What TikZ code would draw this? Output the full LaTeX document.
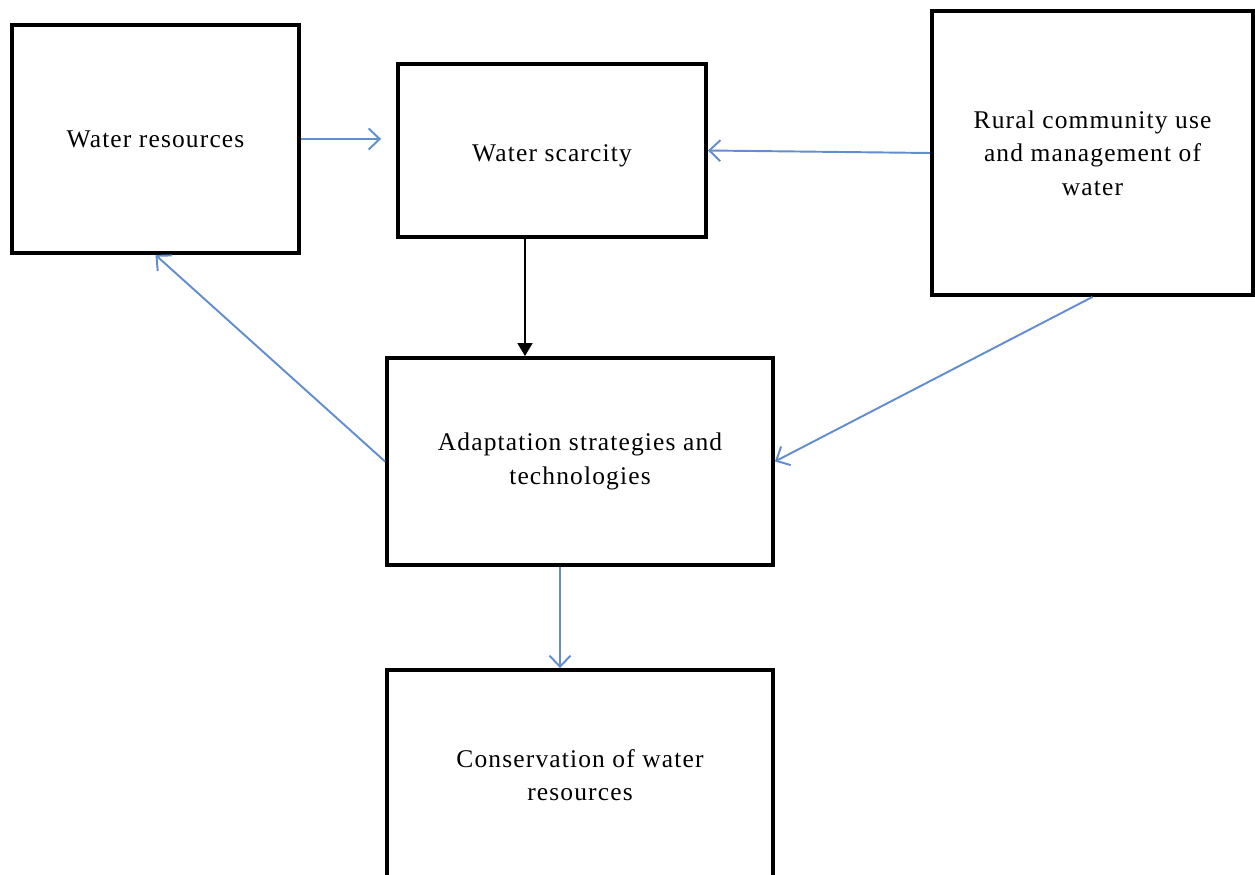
\documentclass[tikz,border=0pt]{standalone}
\usepackage{fontspec}
\setmainfont{Liberation Serif}[LetterSpace=4.5]
\usetikzlibrary{arrows.meta,calc}
\definecolor{flowblue}{RGB}{98,142,205}

\begin{document}
\begin{tikzpicture}[
		box/.style={draw, line width=2.2pt, rectangle, align=center, font=\fontsize{14.5}{19}\selectfont},
		flow/.style={draw=flowblue, line width=1.1pt, -{Straight Barb[length=0.22cm,width=0.42cm,line width=1.1pt]}},
		pull/.style={draw=black, line width=0.9pt, -{Triangle[length=0.26cm,width=0.3cm]}}
	]
			%%%%% START %%%%%
			
			\useasboundingbox (0, 0) rectangle (25.1, -17.5);
			\clip (0, 0) rectangle (25.1, -17.5);
			
			\node[box, minimum width=5.74cm, minimum height=4.56cm] (wres) at (3.11, -2.78) {Water resources};
			\node[box, minimum width=6.16cm, minimum height=3.46cm] (wscar) at (11.04, -3.01) {\rule{0pt}{0.55cm}Water scarcity};
			\node[box, minimum width=6.42cm, minimum height=5.68cm] (rural) at (21.85, -3.06) {Rural community use\\and management of\\water};
			
			\node[box, minimum width=7.72cm, minimum height=4.14cm] (adapt) at (11.6, -9.23) {Adaptation strategies and\\technologies};
			\node[box, minimum width=7.72cm, minimum height=4.2cm] (conserv) at (11.6, -15.5) {Conservation of water\\resources};
			
			\draw[flow, shorten >=0.3cm] (wres.east) -- (wres.east -| wscar.west);
			\draw[flow] (rural.west) -- (wscar.east);
			
			\draw[pull] ([xshift=-0.54cm]wscar.south) -- ([xshift=-0.54cm]wscar.south |- adapt.north);
			
			\draw[flow] (rural.south) -- (adapt.east);
			\draw[flow] (adapt.west) -- (wres.south);
			
			\draw[flow] ([xshift=-0.4cm]adapt.south) -- ([xshift=-0.4cm]adapt.south |- conserv.north);
			
			%%%%% END %%%%%
		\end{tikzpicture}
\end{document}
